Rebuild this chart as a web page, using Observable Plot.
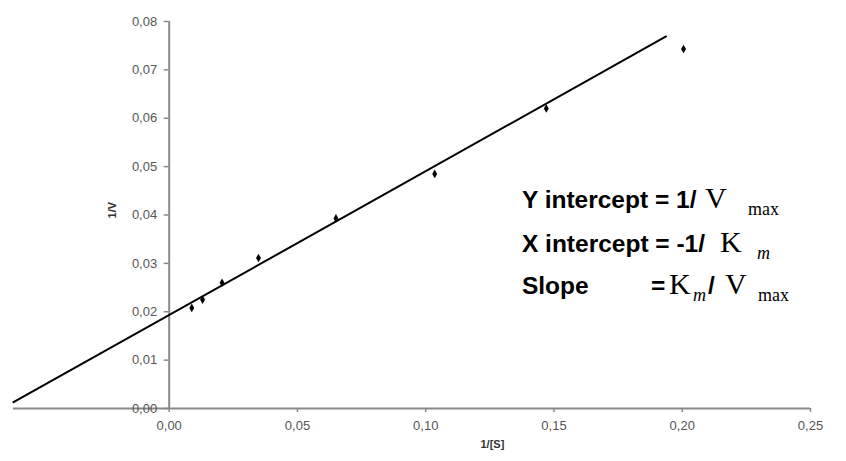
<!DOCTYPE html>
<html><head><meta charset="utf-8">
<script src="https://cdn.jsdelivr.net/npm/d3@7"></script>
<script src="https://cdn.jsdelivr.net/npm/@observablehq/plot@0.6"></script>
<style>
body{margin:0;background:#fff;}
#chart{width:846px;height:461px;}
</style></head><body><div id="chart"></div>
<script>
// Lineweaver-Burk data
const invS = [0.0088, 0.0130, 0.0206, 0.0348, 0.0650, 0.1035, 0.1470, 0.2005];
const invV = [0.0208, 0.0225, 0.0260, 0.0311, 0.0393, 0.0485, 0.0620, 0.0743];
// fitted regression line end points
const fitX = [-0.0607, 0.1937];
const fitY = [0.0013, 0.0769];
const xTicks = [0, 0.05, 0.10, 0.15, 0.20, 0.25];
const yTicks = [0, 0.01, 0.02, 0.03, 0.04, 0.05, 0.06, 0.07, 0.08];
const xLabel = "1/[S]";
const yLabel = "1/V";
const noteRow1 = ["Y intercept = 1/", "V", "max"];
const noteRow2 = ["X intercept = -1/", "K", "m"];
const noteRow3 = ["Slope", "=", "K", "m", "/", "V", "max"];

const fmt = d => d3.format(".2f")(d).replace(".", ",");
const points = invS.map((x, i) => ({x, y: invV[i]}));
const fit = fitX.map((x, i) => ({x, y: fitY[i]}));
const axisGrey = "#8a8a8a";
const labelGrey = "#555";

const plot = Plot.plot({
  width: 846, height: 461,
  marginLeft: 13, marginRight: 36, marginTop: 21, marginBottom: 53,
  style: {fontFamily: "'Liberation Sans', Arial, sans-serif", background: "#fff", overflow: "visible"},
  x: {domain: [-0.0607, 0.25]},
  y: {domain: [0, 0.08], axis: null},
  marks: [
    Plot.ruleY([0], {stroke: axisGrey, strokeWidth: 2}),
    Plot.ruleX([0], {y1: 0, y2: 0.08, stroke: axisGrey, strokeWidth: 2}),
    Plot.axisX({ticks: xTicks, tickFormat: fmt, tickSize: 4, tickPadding: 8, stroke: axisGrey, strokeWidth: 1.5, fill: labelGrey, fontSize: 13, label: null}),
    Plot.ruleY(yTicks, {x1: 0, x2: 0, insetLeft: -5, stroke: axisGrey, strokeWidth: 1.5}),
    Plot.text(yTicks, {x: 0, y: d => d, text: fmt, textAnchor: "end", dx: -12, fontSize: 13, fill: labelGrey}),
    Plot.line(fit, {x: "x", y: "y", stroke: "#000", strokeWidth: 2}),
    Plot.dot(points, {x: "x", y: "y", symbol: "diamond", r: 2.6, fill: "#000"}),
    Plot.text([yLabel], {x: () => 0, y: () => 0.041, text: d => d, dx: -57, rotate: -90, fontWeight: "bold", fontSize: 11, fill: "#333"}),
    Plot.text([xLabel], {x: () => 0.126, frameAnchor: "bottom", text: d => d, dy: 39, fontWeight: "bold", fontSize: 11, fill: "#333"})
  ]
});
document.getElementById("chart").appendChild(plot);

// formula annotation (mixed fonts), placed through the plot's scales
const sx = plot.scale("x"), sy = plot.scale("y");
const x0 = sx.apply(0.1377);
const sans = "'Liberation Sans', Arial, sans-serif";
const serif = "'Liberation Serif', 'Times New Roman', serif";
const B = 24.5;
const rows = [
  {y: 0.04132, parts: [
    {t: noteRow1[0], dx: 0, f: sans, s: B, w: "bold"},
    {t: noteRow1[1], dx: 183, f: serif, s: 30},
    {t: noteRow1[2], dx: 226, f: serif, s: 18, sub: 7}]},
  {y: 0.03223, parts: [
    {t: noteRow2[0], dx: 0, f: sans, s: B, w: "bold"},
    {t: noteRow2[1], dx: 198, f: serif, s: 30},
    {t: noteRow2[2], dx: 235, f: serif, s: 18, it: true, sub: 7}]},
  {y: 0.02355, parts: [
    {t: noteRow3[0], dx: 0, f: sans, s: B, w: "bold"},
    {t: noteRow3[1], dx: 129, f: sans, s: B, w: "bold"},
    {t: noteRow3[2], dx: 147, f: serif, s: 30},
    {t: noteRow3[3], dx: 171, f: serif, s: 18, it: true, sub: 7},
    {t: noteRow3[4], dx: 186, f: sans, s: B, w: "bold"},
    {t: noteRow3[5], dx: 203, f: serif, s: 30},
    {t: noteRow3[6], dx: 236, f: serif, s: 18, sub: 7}]}
];
const g = d3.select(plot).append("g").attr("fill", "#000").attr("text-anchor", "start");
rows.forEach(r => {
  const yb = sy.apply(r.y);
  r.parts.forEach(p => {
    g.append("text")
      .attr("x", x0 + p.dx)
      .attr("y", yb + (p.sub || 0))
      .attr("text-anchor", "start")
      .attr("font-family", p.f)
      .attr("font-size", p.s)
      .attr("font-weight", p.w || "normal")
      .attr("font-style", p.it ? "italic" : "normal")
      .text(p.t);
  });
});
</script></body></html>
